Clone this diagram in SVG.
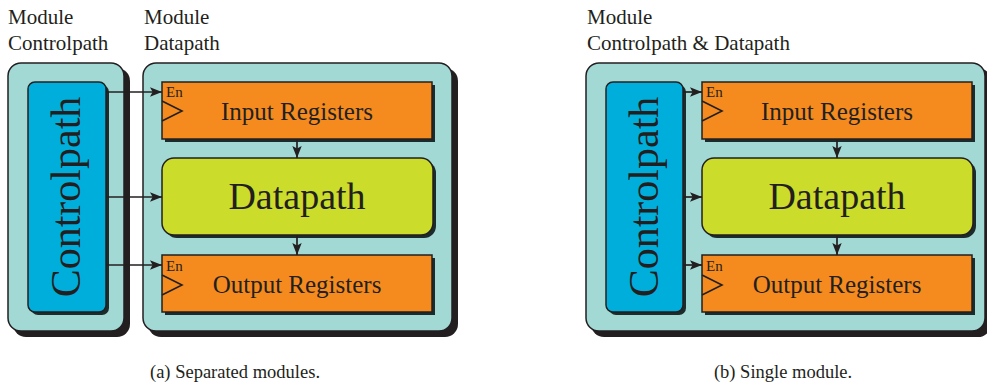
<svg xmlns="http://www.w3.org/2000/svg" width="987" height="392" viewBox="0 0 987 392">
  <defs>
    <marker id="arrow" viewBox="0 0 12 10" refX="12" refY="5" markerWidth="12" markerHeight="10" markerUnits="userSpaceOnUse" orient="auto">
      <path d="M0,0.3 L12,5 L0,9.7 L2.6,5 Z" fill="#231f20"/>
    </marker>
  </defs>
  <style>
    .shadow { fill: #231f20; }
    .ishadow { fill: #1c2b2b; }
    .module { fill: #a2d9d4; stroke: #231f20; stroke-width: 1.5; }
    .ctrl { fill: #00aedb; stroke: #231f20; stroke-width: 1.5; }
    .reg { fill: #f58b1f; stroke: #231f20; stroke-width: 1.5; }
    .dp { fill: #cbdc2a; stroke: #231f20; stroke-width: 1.5; }
    .clk { fill: none; stroke: #231f20; stroke-width: 1.6; }
    .wire { fill: none; stroke: #231f20; stroke-width: 1.7; marker-end: url(#arrow); }
    text { font-family: "Liberation Serif", "Times New Roman", serif; fill: #231f20; }
    .head { font-size: 21px; }
    .cap { font-size: 18.5px; text-anchor: middle; }
    .regtxt { font-size: 25px; text-anchor: middle; }
    .dptxt { font-size: 38px; text-anchor: middle; }
    .ctxt { font-size: 42px; text-anchor: middle; }
    .en { font-size: 15px; }
  </style>

  <!-- headings -->
  <text class="head" x="8" y="24">Module</text>
  <text class="head" x="8" y="50">Controlpath</text>
  <text class="head" x="144" y="24">Module</text>
  <text class="head" x="144" y="50">Datapath</text>
  <text class="head" x="587" y="24">Module</text>
  <text class="head" x="587" y="50">Controlpath &amp; Datapath</text>

  <!-- (a) separated modules -->
  <g id="module-controlpath">
    <rect class="shadow" x="13" y="68" width="117" height="269" rx="13"/>
    <rect class="module" x="8" y="63" width="116" height="268" rx="13"/>
  </g>
  <g id="controlpath-a">
    <rect class="ishadow" x="31" y="85" width="78" height="230" rx="7"/>
    <rect class="ctrl" x="28" y="82" width="78" height="230" rx="7"/>
    <text class="ctxt" transform="translate(80,197) rotate(-90)">Controlpath</text>
  </g>
  <g id="module-datapath">
    <rect class="shadow" x="148" y="68" width="310" height="269" rx="13"/>
    <rect class="module" x="143" y="63" width="309" height="268" rx="13"/>
  </g>
  <g id="input-registers-a">
    <rect class="ishadow" x="165" y="85" width="270" height="57"/>
    <rect class="reg" x="162" y="82" width="270" height="57"/>
    <polyline class="clk" points="162,101 182,111 162,121"/>
    <text class="en" x="166" y="97">En</text>
    <text class="regtxt" x="297" y="120">Input Registers</text>
  </g>
  <g id="datapath-a">
    <rect class="ishadow" x="165" y="161" width="271" height="77" rx="12"/>
    <rect class="dp" x="162" y="158" width="271" height="77" rx="12"/>
    <text class="dptxt" x="297" y="209">Datapath</text>
  </g>
  <g id="output-registers-a">
    <rect class="ishadow" x="165" y="258" width="270" height="57"/>
    <rect class="reg" x="162" y="255" width="270" height="57"/>
    <polyline class="clk" points="162,275 182,285 162,295"/>
    <text class="en" x="166" y="271">En</text>
    <text class="regtxt" x="297" y="293">Output Registers</text>
  </g>

  <!-- (b) single module -->
  <g id="module-single">
    <rect class="shadow" x="591" y="68" width="400" height="269" rx="13"/>
    <rect class="module" x="586" y="63" width="399" height="268" rx="13"/>
  </g>
  <g id="controlpath-b">
    <rect class="ishadow" x="609" y="85" width="77" height="230" rx="7"/>
    <rect class="ctrl" x="606" y="82" width="77" height="230" rx="7"/>
    <text class="ctxt" transform="translate(658,197) rotate(-90)">Controlpath</text>
  </g>
  <g id="input-registers-b">
    <rect class="ishadow" x="705" y="85" width="270" height="57"/>
    <rect class="reg" x="702" y="82" width="270" height="57"/>
    <polyline class="clk" points="702,101 722,111 702,121"/>
    <text class="en" x="706" y="97">En</text>
    <text class="regtxt" x="837" y="120">Input Registers</text>
  </g>
  <g id="datapath-b">
    <rect class="ishadow" x="705" y="161" width="271" height="77" rx="12"/>
    <rect class="dp" x="702" y="158" width="271" height="77" rx="12"/>
    <text class="dptxt" x="837" y="209">Datapath</text>
  </g>
  <g id="output-registers-b">
    <rect class="ishadow" x="705" y="258" width="270" height="57"/>
    <rect class="reg" x="702" y="255" width="270" height="57"/>
    <polyline class="clk" points="702,275 722,285 702,295"/>
    <text class="en" x="706" y="271">En</text>
    <text class="regtxt" x="837" y="293">Output Registers</text>
  </g>

  <!-- connectors -->
  <g id="connectors">
    <line class="wire" x1="106" y1="92" x2="162" y2="92"/>
    <line class="wire" x1="106" y1="197" x2="162" y2="197"/>
    <line class="wire" x1="106" y1="265" x2="162" y2="265"/>
    <line class="wire" x1="297" y1="139" x2="297" y2="158"/>
    <line class="wire" x1="297" y1="235" x2="297" y2="255"/>
    <line class="wire" x1="683" y1="92" x2="702" y2="92"/>
    <line class="wire" x1="683" y1="197" x2="702" y2="197"/>
    <line class="wire" x1="683" y1="265" x2="702" y2="265"/>
    <line class="wire" x1="837" y1="139" x2="837" y2="158"/>
    <line class="wire" x1="837" y1="235" x2="837" y2="255"/>
  </g>

  <!-- captions -->
  <text class="cap" x="235" y="378">(a) Separated modules.</text>
  <text class="cap" x="783" y="378">(b) Single module.</text>
</svg>
